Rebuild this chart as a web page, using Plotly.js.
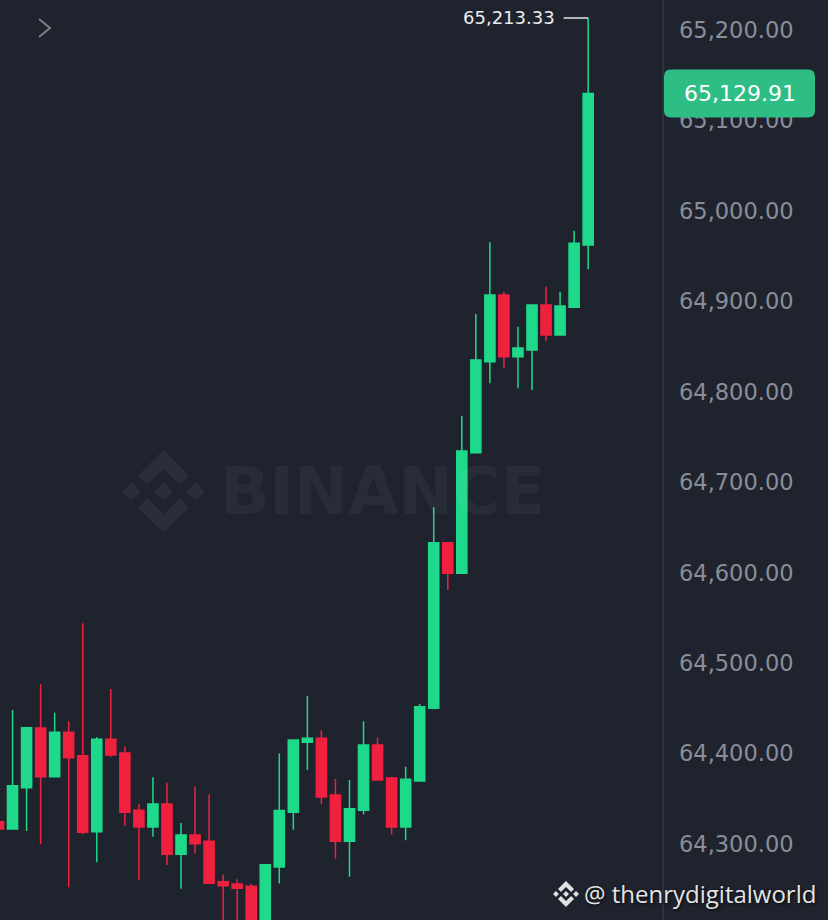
<!DOCTYPE html>
<html>
<head>
<meta charset="utf-8">
<script src="https://cdn.plot.ly/plotly-3.0.1.min.js"></script>
<style>
html,body{margin:0;padding:0;background:#1f232e;}
#chart{width:828px;height:920px;}
</style>
</head>
<body>
<div id="chart"></div>
<script>
// ---- data ----
const candleIndex = [0,1,2,3,4,5,6,7,8,9,10,11,12,13,14,15,16,17,18,19,20,21,22,23,24,25,26,27,28,29,30,31,32,33,34,35,36,37,38,39,40,41,42];
const openPrices = [64324.6,64316.5,64362.2,64428.2,64374.4,64423.5,64397.6,64313.6,64415.7,64400.6,
  64337.2,64318.7,64344.2,64288.6,64309.9,64302.9,64258.3,64255.7,64253.2,64198.0,
  64274.5,64335.0,64412.4,64416.8,64354.1,64302.9,64337.2,64409.4,64372.9,64318.7,
  64369.6,64450.0,64633.1,64599.3,64732.6,64833.2,64907.0,64838.8,64846.2,64895.9,
  64862.8,64893.4,64962.3];
const highPrices = [64327.0,64448.1,64429.6,64476.5,64445.1,64435.6,64544.0,64417.9,64471.3,64407.5,
  64344.2,64373.7,64367.7,64323.2,64363.3,64354.9,64266.0,64260.9,64255.7,64277.8,
  64400.0,64415.7,64463.6,64425.7,64371.8,64370.7,64435.6,64417.9,64374.4,64385.4,
  64454.7,64672.2,64634.0,64773.2,64886.0,64965.3,64910.6,64871.9,64896.0,64916.2,
  64910.6,64978.1,65213.33];
const lowPrices = [64314.0,64316.0,64314.3,64299.6,64373.5,64252.1,64310.7,64279.7,64396.5,64320.2,
  64260.1,64308.0,64276.7,64250.5,64289.7,64256.0,64190.0,64195.0,64180.0,64185.0,
  64256.3,64315.8,64381.8,64344.2,64283.7,64263.8,64332.8,64370.0,64310.7,64304.0,
  64369.0,64449.0,64580.8,64599.0,64732.0,64809.4,64825.9,64803.8,64801.9,64856.5,
  64862.0,64893.0,64935.4];
const closePrices = [64316.5,64364.4,64428.5,64374.4,64423.5,64395.4,64312.9,64415.7,64398.4,64335.0,
  64318.7,64344.2,64288.6,64309.9,64300.3,64256.5,64253.8,64251.0,64200.0,64277.1,
  64337.0,64414.9,64416.8,64351.9,64302.9,64339.0,64409.4,64370.7,64318.7,64371.5,
  64451.8,64633.1,64599.3,64734.5,64835.1,64907.0,64838.8,64848.4,64895.9,64862.8,
  64894.8,64964.2,65129.91];
const yTickValues = [64300,64400,64500,64600,64700,64800,64900,65000,65100,65200];
const watermarkText = 'BINANCE';
const creditText = '@ thenrydigitalworld';

// ---- styles ----
const BG = '#1f232e';
const UP = '#1fd98b';
const DOWN = '#f0203f';
const TAG = '#2ebd85';
const W = 828, H = 920, PLOT_W = 663;
const px = v => v / PLOT_W;
const py = v => 1 - v / H;

const lastI = candleIndex.length - 1;
const lastClose = closePrices[lastI];
const lastHigh = highPrices[lastI];
const fmt = v => v.toLocaleString('en-US', {minimumFractionDigits: 2, maximumFractionDigits: 2});

// Binance logo polygons in a 126.61 unit box
const LOGO = [
  [[38.73,53.2],[63.32,28.62],[87.92,53.22],[102.22,38.91],[63.32,0],[24.42,38.9]],
  [[0,63.31],[14.3,49],[28.61,63.31],[14.3,77.61]],
  [[38.73,73.41],[63.32,98],[87.92,73.4],[102.23,87.69],[63.33,126.6],[24.42,87.72]],
  [[98,63.31],[112.3,49],[126.61,63.3],[112.3,77.62]],
  [[77.83,63.3],[63.32,48.78],[48.81,63.28],[63.32,77.78]]
];
function logoShapes(ox, oy, size, color, layer) {
  const s = size / 126.61;
  return LOGO.map(poly => ({
    type: 'path', xref: 'paper', yref: 'paper', layer: layer,
    path: poly.map((p, k) => (k ? 'L' : 'M') + px(ox + p[0] * s).toFixed(5) + ',' + py(oy + p[1] * s).toFixed(5)).join(' ') + ' Z',
    fillcolor: color, line: {width: 0}
  }));
}

function roundRect(x0, y0, x1, y1, r) {
  return `M${x0 + r},${y0} H${x1 - r} Q${x1},${y0} ${x1},${y0 + r} V${y1 - r} Q${x1},${y1} ${x1 - r},${y1} H${x0 + r} Q${x0},${y1} ${x0},${y1 - r} V${y0 + r} Q${x0},${y0} ${x0 + r},${y0} Z`;
}

const trace = {
  type: 'candlestick',
  x: candleIndex, open: openPrices, high: highPrices, low: lowPrices, close: closePrices,
  increasing: {line: {color: UP, width: 1.5}, fillcolor: UP},
  decreasing: {line: {color: DOWN, width: 1.5}, fillcolor: DOWN},
  whiskerwidth: 0,
  hoverinfo: 'none'
};

const shapes = [
  // separator
  {type: 'line', xref: 'paper', yref: 'paper', x0: 1, x1: 1, y0: 0, y1: 1, line: {color: '#353945', width: 1.5}},
  // chevron
  {type: 'path', xref: 'paper', yref: 'paper', path: `M${px(39)},${py(19)} L${px(50)},${py(28)} L${px(39)},${py(37)}`,
   line: {color: '#7c8089', width: 2}},
  // high marker line
  {type: 'line', xref: 'x', yref: 'y', x0: lastI - 1.75, x1: lastI, y0: lastHigh, y1: lastHigh,
   line: {color: '#e6e6e6', width: 1.5}, layer: 'above'},
  // price tag
  {type: 'path', xref: 'paper', xsizemode: 'pixel', xanchor: 1, yref: 'y', ysizemode: 'pixel', yanchor: lastClose,
   path: roundRect(1, -24, 152, 24, 7), fillcolor: TAG, line: {width: 0}, layer: 'above'}
].concat(logoShapes(122, 450, 83, '#2a2e39', 'below'))
 .concat(logoShapes(553, 881, 26, '#e2e2e2', 'above'));

const annotations = [
  {xref: 'paper', yref: 'paper', x: px(383), y: py(491), xanchor: 'center', yanchor: 'middle', showarrow: false,
   text: watermarkText, font: {family: 'DejaVu Sans', size: 65, weight: 700, color: 'rgba(255,255,255,0.045)'}},
  {xref: 'x', yref: 'y', x: lastI, y: lastHigh, xanchor: 'right', yanchor: 'middle', xshift: -31, showarrow: false,
   text: fmt(lastHigh), font: {family: 'DejaVu Sans', size: 18, color: '#ececec'}},
  {xref: 'paper', yref: 'y', x: px(739.5), y: lastClose, xanchor: 'center', yanchor: 'middle', showarrow: false,
   text: fmt(lastClose), font: {family: 'DejaVu Sans', size: 22, color: '#ffffff'}},
  {xref: 'paper', yref: 'paper', x: px(818), y: py(893), xanchor: 'right', yanchor: 'middle', showarrow: false,
   text: creditText, font: {family: 'Open Sans', size: 24, color: '#e4e4e4', shadow: '1px 1px 3px rgba(0,0,0,0.9)'}}
];

const layout = {
  width: W, height: H,
  paper_bgcolor: BG, plot_bgcolor: BG,
  margin: {l: 0, r: W - PLOT_W, t: 0, b: 0, pad: 0},
  showlegend: false,
  boxgap: 0.28, boxgroupgap: 0,
  dragmode: false,
  xaxis: {range: [0.107, 47.33], visible: false, showgrid: false, zeroline: false, rangeslider: {visible: false}, fixedrange: true},
  yaxis: {side: 'right', range: [64215.9, 65233.2], tickvals: yTickValues, tickformat: ',.2f',
    showgrid: false, zeroline: false, showline: false, ticks: '', ticklabelstandoff: 15,
    tickfont: {family: 'DejaVu Sans', size: 22.5, color: '#8a8e98'}, fixedrange: true},
  shapes: shapes,
  annotations: annotations
};

Plotly.newPlot('chart', [trace], layout, {displayModeBar: false, staticPlot: true});
</script>
</body>
</html>
